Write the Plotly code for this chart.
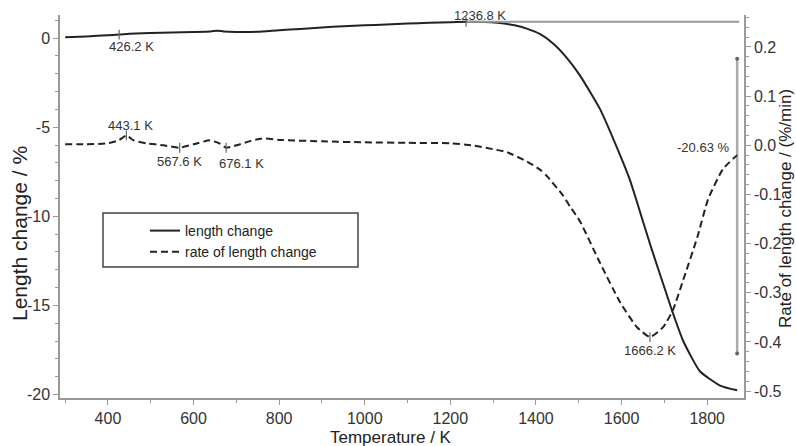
import numpy as np
import plotly.graph_objects as go

# ---- data ----
temp_len = [300, 350, 400, 426.2, 450, 500, 550, 600, 640, 655, 670, 700, 750, 800, 850, 900, 950,
            1000, 1050, 1100, 1150, 1200, 1236.8, 1280, 1310, 1350, 1380, 1410, 1440, 1470, 1503,
            1550, 1597, 1620, 1636, 1667, 1700, 1718, 1744, 1783, 1830, 1870]
length_change = [0.05, 0.1, 0.17, 0.2, 0.25, 0.29, 0.32, 0.35, 0.38, 0.42, 0.38, 0.35, 0.36, 0.45,
                 0.52, 0.6, 0.67, 0.72, 0.77, 0.82, 0.86, 0.9, 0.92, 0.91, 0.86, 0.72, 0.52, 0.22,
                 -0.3, -1.05, -2.1, -4.0, -6.6, -8.0, -9.2, -11.6, -14.0, -15.3, -17.0, -18.7,
                 -19.5, -19.77]

temp_rate = [300, 350, 400, 425, 443.1, 460, 490, 530, 567.6, 600, 638, 660, 676.1, 700, 730, 760,
             800, 900, 1000, 1100, 1200, 1250, 1300, 1332, 1379, 1410, 1426, 1463, 1480, 1503, 1550,
             1597, 1636, 1666.2, 1697, 1720, 1744, 1777, 1802, 1837, 1870]
rate = [0.002, 0.002, 0.004, 0.01, 0.02, 0.01, 0.004, 0.0, -0.005, 0.002, 0.01, 0.004, -0.005, 0.0,
        0.008, 0.014, 0.011, 0.008, 0.006, 0.005, 0.004, 0.0, -0.008, -0.014, -0.033, -0.05, -0.063,
        -0.102, -0.125, -0.155, -0.24, -0.32, -0.37, -0.39, -0.37, -0.335, -0.274, -0.187, -0.11,
        -0.048, -0.02]

# reference lines (step marker)
peak_level_T = [1236.8, 1875]
peak_level_y = [0.92, 0.92]
step_T = [1870, 1870]
step_y = [-1.15, -17.7]

# marked points
len_marks_T = [426.2, 1236.8]
rate_marks_T = [443.1, 567.6, 676.1, 1666.2]

# annotations: (label, T, y)
len_notes = [("426.2 K", 456, -0.45), ("1236.8 K", 1269, 1.25)]
rate_notes = [("443.1 K", 452, 0.04), ("567.6 K", 568, -0.032), ("676.1 K", 713, -0.037),
              ("1666.2 K", 1667, -0.418), ("-20.63 %", 1790, -0.004)]

y_ticks = [0, -5, -10, -15, -20]
y2_ticks = [0.2, 0.1, 0.0, -0.1, -0.2, -0.3, -0.4, -0.5]
x_ticks = [400, 600, 800, 1000, 1200, 1400, 1600, 1800]

FONT = "Liberation Sans, Arial, sans-serif"
INK = "#222222"
GRAY = "#9a9a9a"

fig = go.Figure()
fig.add_trace(go.Scatter(x=temp_len, y=length_change, mode="lines", name="length change",
                         line=dict(color=INK, width=2, shape="spline", smoothing=0.5), yaxis="y"))
fig.add_trace(go.Scatter(x=temp_rate, y=rate, mode="lines", name="rate of length change",
                         line=dict(color=INK, width=2, dash="7px,4px", shape="spline", smoothing=0.5),
                         yaxis="y2"))
fig.add_trace(go.Scatter(x=peak_level_T, y=peak_level_y, mode="lines", showlegend=False,
                         line=dict(color=GRAY, width=2), yaxis="y", hoverinfo="skip"))
fig.add_trace(go.Scatter(x=step_T, y=step_y, mode="lines+markers", showlegend=False,
                         line=dict(color="#aaaaaa", width=2.5), marker=dict(color="#666", size=4),
                         yaxis="y", hoverinfo="skip"))
fig.add_trace(go.Scatter(x=len_marks_T, y=np.interp(len_marks_T, temp_len, length_change),
                         mode="markers", showlegend=False, yaxis="y", hoverinfo="skip",
                         marker=dict(symbol="line-ns", size=7, line=dict(color="#666", width=1.2))))
fig.add_trace(go.Scatter(x=rate_marks_T, y=np.interp(rate_marks_T, temp_rate, rate),
                         mode="markers", showlegend=False, yaxis="y2", hoverinfo="skip",
                         marker=dict(symbol="line-ns", size=7, line=dict(color="#666", width=1.2))))

annotations = []
for txt, t, v in len_notes:
    annotations.append(dict(x=t, y=v, xref="x", yref="y", text=txt, showarrow=False,
                            xanchor="center", yanchor="middle",
                            font=dict(family=FONT, size=13, color="#333")))
for txt, t, v in rate_notes:
    annotations.append(dict(x=t, y=v, xref="x", yref="y2", text=txt, showarrow=False,
                            xanchor="center", yanchor="middle",
                            font=dict(family=FONT, size=13, color="#333")))
annotations.append(dict(x=(19 - 60) / 684, y=(398 - 234) / 383, xref="paper", yref="paper",
                        text="Length change / %", textangle=-90, showarrow=False,
                        xanchor="center", yanchor="middle",
                        font=dict(family=FONT, size=21, color="#222")))
annotations.append(dict(x=(785 - 60) / 684, y=(398 - 209) / 383, xref="paper", yref="paper",
                        text="Rate of length change / (%/min)", textangle=-90, showarrow=False,
                        xanchor="center", yanchor="middle",
                        font=dict(family=FONT, size=17, color="#222")))
annotations.append(dict(x=0.484, y=-0.102, xref="paper", yref="paper", text="Temperature / K",
                        showarrow=False, xanchor="center", yanchor="middle",
                        font=dict(family=FONT, size=17, color="#222")))

axis_common = dict(showline=True, linecolor=GRAY, linewidth=1.5, ticks="outside", tickcolor=GRAY,
                   ticklen=5, showgrid=False, zeroline=False,
                   tickfont=dict(family=FONT, size=16, color="#333"))

fig.update_layout(
    width=796, height=446,
    margin=dict(l=60, r=52, t=15, b=48),
    paper_bgcolor="white", plot_bgcolor="white",
    showlegend=True,
    legend=dict(x=(145 - 60) / 684, y=(398 - 215) / 383, xanchor="left", yanchor="top",
                borderwidth=0, bgcolor="rgba(0,0,0,0)",
                font=dict(family=FONT, size=14, color="#222"), tracegroupgap=0),
    shapes=[dict(type="rect", xref="paper", yref="paper",
                 x0=(103 - 60) / 684, x1=(358 - 60) / 684,
                 y0=(398 - 267) / 383, y1=(398 - 213) / 383,
                 line=dict(color="#444", width=1.5), fillcolor="rgba(0,0,0,0)", layer="below")],
    xaxis=dict(range=[288, 1886], tickvals=x_ticks,
               minor=dict(dtick=100, tick0=0, ticks="outside", ticklen=3, tickcolor=GRAY),
               **axis_common),
    yaxis=dict(range=[-20.2, 1.3], tickvals=y_ticks, ticktext=[str(v) for v in y_ticks],
               minor=dict(dtick=1, tick0=0, ticks="outside", ticklen=3, tickcolor=GRAY),
               **axis_common),
    yaxis2=dict(range=[-0.514, 0.265], overlaying="y", side="right",
                tickvals=y2_ticks, ticktext=["%.1f" % v for v in y2_ticks],
                minor=dict(dtick=0.02, tick0=0, ticks="outside", ticklen=3, tickcolor=GRAY),
                **axis_common),
    annotations=annotations,
)

fig.write_html("out.html")
